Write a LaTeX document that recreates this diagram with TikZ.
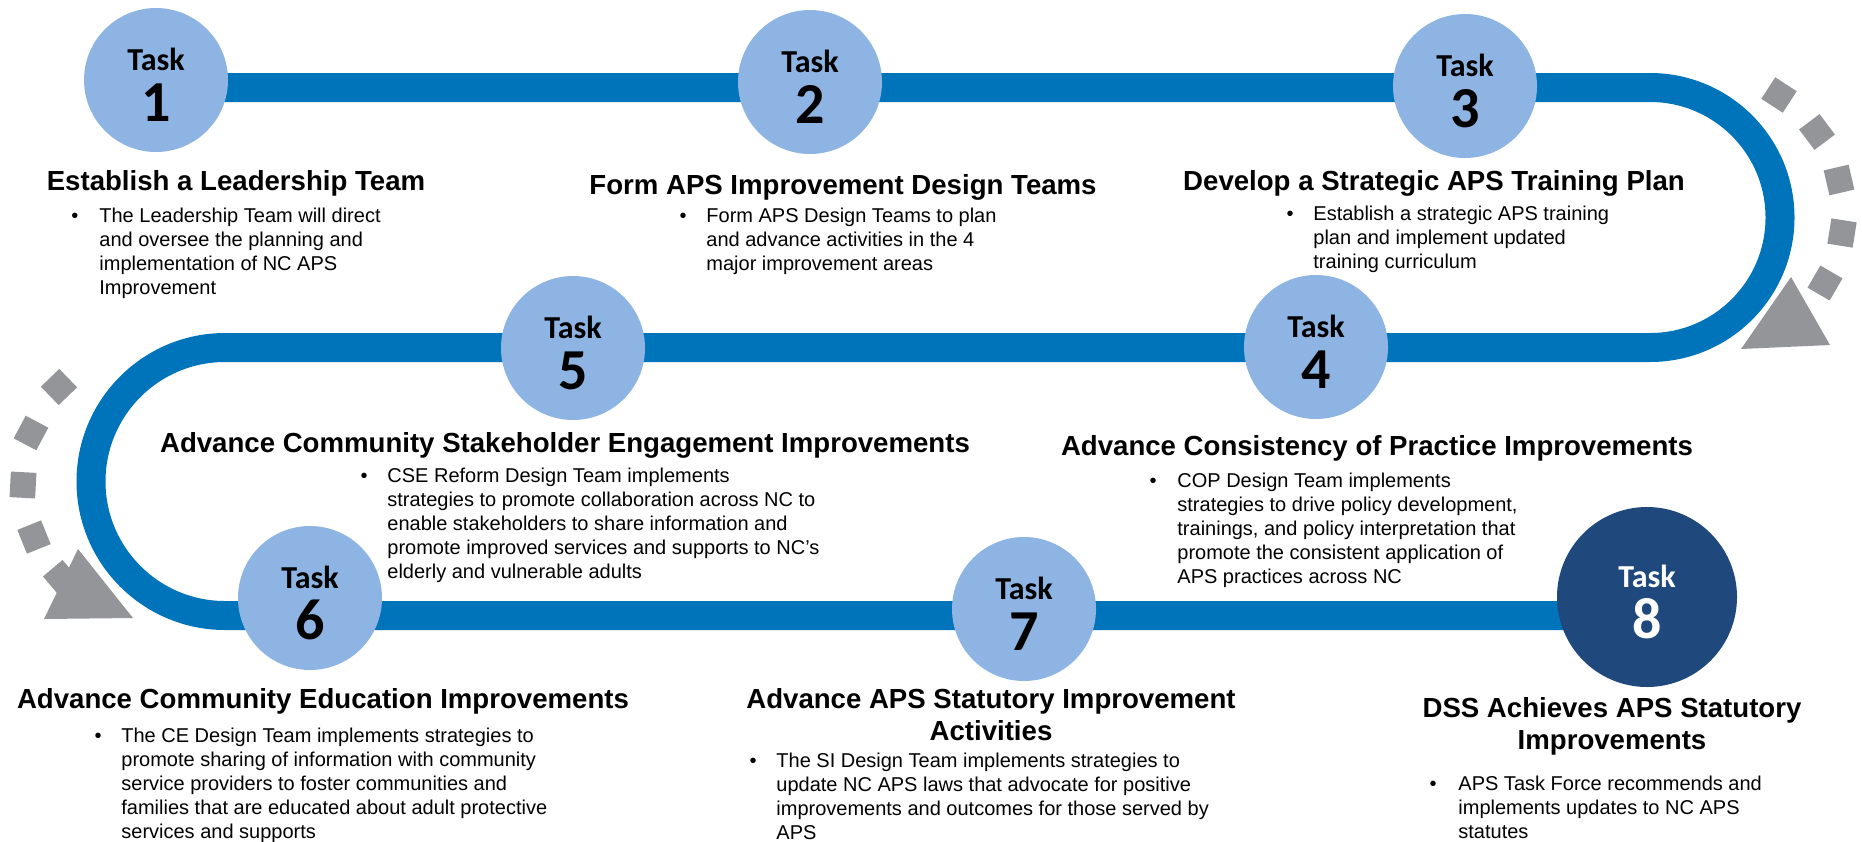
\documentclass[tikz,border=0pt]{standalone}
\usepackage{fontspec}
\setmainfont{Liberation Sans}
\newfontfamily\taskfont{Carlito}
\definecolor{trackblue}{HTML}{0074BA}
\definecolor{tasklight}{HTML}{8EB4E3}
\definecolor{taskdark}{HTML}{1F497D}
\definecolor{markgray}{HTML}{939598}
% lines hung from the baseline of the first one
\newcommand{\toplines}[2]{\begin{tabular}[t]{@{}#1@{}}#2\end{tabular}}
\begin{document}
\begin{tikzpicture}
  [x=0.5pt, y=-0.5pt,
  track/.style={draw=trackblue, line width=14.5pt},
  task/.style={circle, fill=tasklight, minimum size=72pt, inner sep=0pt},
  lasttask/.style={task, fill=taskdark, minimum size=90pt},
  tasklbl/.style={anchor=base, inner sep=0pt, font=\taskfont\bfseries\fontsize{16}{16}\selectfont},
  tasknum/.style={anchor=base, inner sep=0pt, font=\taskfont\bfseries\fontsize{29}{29}\selectfont},
  title/.style={anchor=base, inner sep=0pt, font=\fontsize{13.8}{16.2}\selectfont\bfseries},
  body/.style={anchor=base west, inner sep=0pt, font=\fontsize{10}{12}\selectfont},
  dot/.style={anchor=base, inner sep=0pt, font=\fontsize{10}{12}\selectfont},
  tick/.style={fill=markgray, minimum size=12.8pt, inner sep=0pt},
  ]
  \useasboundingbox (0,0) rectangle (1862,841);

  % the road
  \coordinate (roadA) at (156,87.5);
  \coordinate (roadB) at (1650,87.5);
  \coordinate (roadC) at (225,347.5);
  \coordinate (roadD) at (1647,615.5);
  \draw[track] (roadA) -- (roadB) arc[start angle=90, end angle=-90, radius=65pt]
    -- (roadC) arc[start angle=90, end angle=270, radius=67pt] -- (roadD);

  % dashed turn arrows
  \foreach \x/\y/\r [count=\i] in {1779/95/57, 1817/132/37, 1839/180/13, 1842/233/-9, 1825/283/-30}
    \node[tick, rotate=\r] (sqR\i) at (\x,\y) {};
  \fill[markgray] (1791,277) -- (1741,349) -- (1830,345) -- cycle;
  \foreach \x/\y/\r [count=\i] in {59/387/44, 31/433/62, 23/485/87, 34/537/112, 61/578/130}
    \node[tick, rotate=\r] (sqL\i) at (\x,\y) {};
  \fill[markgray] (78,549) -- (44,619) -- (133,618) -- cycle;

  % tasks
  \foreach \n/\x/\y in {1/156/80, 2/810/82, 3/1465/86, 4/1316/347, 5/573/348, 6/310/598, 7/1024/609} {
    \node[task] (t\n) at (\x,\y) {};
    \node[tasklbl] (tl\n) at ([yshift=4.8pt]t\n.center) {Task};
    \node[tasknum] (tn\n) at ([yshift=-20.7pt]t\n.center) {\n};
  }
  \node[lasttask] (t8) at (1647,597) {};
  \node[tasklbl, text=white] (tl8) at ([yshift=4.8pt]t8.center) {Task};
  \node[tasknum, text=white] (tn8) at ([yshift=-20.7pt]t8.center) {8};

  % titles
  \node[title] (h1) at (236,190) {Establish a Leadership Team};
  \node[title] (h2) at (843,194) {Form APS Improvement Design Teams};
  \node[title] (h3) at (1434,190) {Develop a Strategic APS Training Plan};
  \node[title] (h4) at (1377,455) {Advance Consistency of Practice Improvements};
  \node[title] (h5) at (565,452) {Advance Community Stakeholder Engagement Improvements};
  \node[title] (h6) at (323,708) {Advance Community Education Improvements};
  \node[title] (h7) at (991,708) {\toplines{c}{Advance APS Statutory Improvement\\Activities}};
  \node[title] (h8) at (1612,717) {\toplines{c}{DSS Achieves APS Statutory\\Improvements}};

  % bullet points
  \node[dot] (p1) at (75,222) {\textbullet};
  \node[body] (b1) at (99,222) {\toplines{l}{The Leadership Team will direct\\and oversee the planning and\\implementation of NC APS\\Improvement}};
  \node[dot] (p2) at (683,222) {\textbullet};
  \node[body] (b2) at (706,222) {\toplines{l}{Form APS Design Teams to plan\\and advance activities in the 4\\major improvement areas}};
  \node[dot] (p3) at (1290,220) {\textbullet};
  \node[body] (b3) at (1313,220) {\toplines{l}{Establish a strategic APS training\\plan and implement updated\\training curriculum}};
  \node[dot] (p4) at (1153,487) {\textbullet};
  \node[body] (b4) at (1177,487) {\toplines{l}{COP Design Team implements\\strategies to drive policy development,\\trainings, and policy interpretation that\\promote the consistent application of\\APS practices across NC}};
  \node[dot] (p5) at (364,482) {\textbullet};
  \node[body] (b5) at (387,482) {\toplines{l}{CSE Reform Design Team implements\\strategies to promote collaboration across NC to\\enable stakeholders to share information and\\promote improved services and supports to NC’s\\elderly and vulnerable adults}};
  \node[dot] (p6) at (98,742) {\textbullet};
  \node[body] (b6) at (121,742) {\toplines{l}{The CE Design Team implements strategies to\\promote sharing of information with community\\service providers to foster communities and\\families that are educated about adult protective\\services and supports}};
  \node[dot] (p7) at (753,767) {\textbullet};
  \node[body] (b7) at (776,767) {\toplines{l}{The SI Design Team implements strategies to\\update NC APS laws that advocate for positive\\improvements and outcomes for those served by\\APS}};
  \node[dot] (p8) at (1433,790) {\textbullet};
  \node[body] (b8) at (1458,790) {\toplines{l}{APS Task Force recommends and\\implements updates to NC APS\\statutes}};
\end{tikzpicture}
\end{document}
